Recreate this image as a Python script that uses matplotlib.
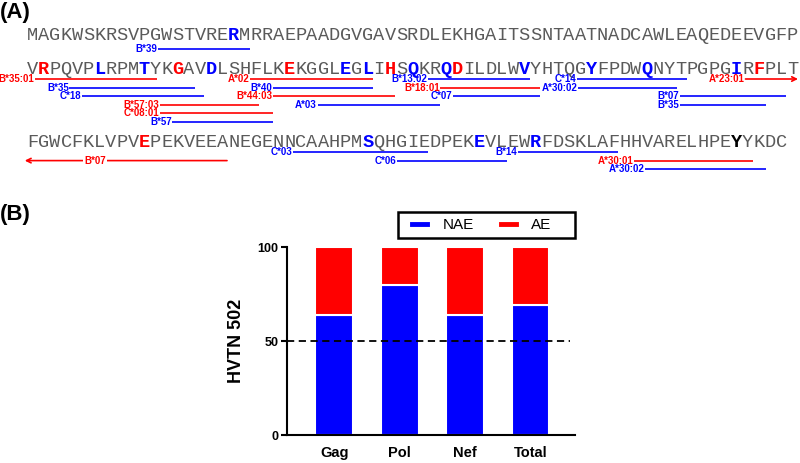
import matplotlib.pyplot as plt
from matplotlib.lines import Line2D
from matplotlib.patches import Rectangle

plt.rcParams['font.family'] = ['Liberation Sans', 'DejaVu Sans']

BLUE = '#0000ff'
RED = '#ff0000'
GREY = '#5a5a5a'

# ---- panel A: sequence (one entry per printed line) ----
seq_lines = [
    "MAGKWSKRSVPGWSTVRERMRRAEPAADGVGAVSRDLEKHGAITSSNTAATNADCAWLEAQEDEEVGFP",
    "VRPQVPLRPMTYKGAVDLSHFLKEKGGLEGLIHSQKRQDILDLWVYHTQGYFPDWQNYTPGPGIRFPLT",
    "FGWCFKLVPVEPEKVEEANEGENNCAAHPMSQHGIEDPEKEVLEWRFDSKLAFHHVARELHPEYYKDC",
]
# highlighted residues, 1-based position within each line
hl_red = [[], [2, 14, 24, 33, 39, 66], [11]]
hl_blue = [[19], [7, 11, 17, 29, 31, 35, 38, 45, 51, 56, 64], [31, 41, 46]]
hl_black = [[], [], [64]]

# epitopes: label, colour, sequence line, track under the line, start/end column
ep_label = ["B*39",
            "B*35:01", "A*02", "B*13:02", "C*14", "A*23:01",
            "B*35", "B*40", "B*18:01", "A*30:02",
            "C*18", "B*44:03", "C*07", "B*07",
            "B*57:03", "A*03", "B*35",
            "C*08:01", "B*57",
            "B*07", "C*03", "B*14", "C*06", "A*30:01", "A*30:02"]
ep_color = ["b",
            "r", "r", "b", "b", "r",
            "b", "b", "r", "b",
            "b", "r", "b", "b",
            "r", "b", "b",
            "r", "b",
            "r", "b", "b", "b", "r", "b"]
ep_line = [0] + [1] * 18 + [2] * 6
ep_track = [0.5,
            0, 0, 0, 0, 0,
            1, 1, 1, 1,
            2, 2, 2, 2,
            3, 3, 3,
            4, 5,
            1, 0, 0, 1, 1, 2]
ep_start = [11.7,
            0.7, 20.0, 35.9, 49.2, 64.3,
            3.8, 22.0, 37.0, 49.3,
            4.9, 22.0, 38.1, 58.4,
            11.9, 26.0, 58.4,
            11.9, 13.0,
            -0.2, 23.8, 43.9, 33.1, 54.3, 55.3]
ep_end = [20.0,
          11.6, 31.0, 45.0, 59.1, 69.0,
          15.0, 31.0, 45.9, 58.2,
          15.8, 32.9, 45.9, 67.9,
          20.8, 37.0, 66.1,
          22.0, 22.0,
          17.9, 35.9, 52.9, 43.0, 65.0, 66.1]
ep_arrow = [""] * 5 + ["->"] + [""] * 13 + ["<-"] + [""] * 5
ep_label_at = [None] * 19 + [6.1] + [None] * 5

# ---- panel B: stacked bars ----
categories = ["Gag", "Pol", "Nef", "Total"]
nae = [64, 80, 64, 69]
ae = [36, 20, 36, 31]

fig = plt.figure(figsize=(8, 4.63), dpi=100)

fig.text(0.0, 1 - 2 / 463, "(A)", fontsize=16, fontweight="bold", va="top")
fig.text(0.0, 1 - 204 / 463, "(B)", fontsize=16, fontweight="bold", va="top")

axA = fig.add_axes([27 / 800, 1 - 180 / 463, 771 / 800, 180 / 463])
axA.set_xlim(0, 69)
axA.set_ylim(180, 0)
axA.axis("off")

baselines = [40, 74, 147]
cmap = {"b": BLUE, "r": RED}

for li, seq in enumerate(seq_lines):
    for i, ch in enumerate(seq):
        pos = i + 1
        color, weight = GREY, "normal"
        if pos in hl_red[li]:
            color, weight = RED, "bold"
        elif pos in hl_blue[li]:
            color, weight = BLUE, "bold"
        elif pos in hl_black[li]:
            color, weight = "black", "bold"
        axA.text(i + 0.5, baselines[li], ch, ha="center", va="baseline",
                 family="Liberation Mono", fontsize=13.4, color=color,
                 fontweight=weight)

for k in range(len(ep_label)):
    c = cmap[ep_color[k]]
    y = baselines[ep_line[k]] + 5 + 8.6 * ep_track[k]
    if ep_arrow[k] == "->":
        axA.annotate("", xy=(ep_end[k], y), xytext=(ep_start[k], y),
                     annotation_clip=False,
                     arrowprops=dict(arrowstyle="->", color=c, lw=1.2,
                                     shrinkA=0, shrinkB=0, mutation_scale=8))
    elif ep_arrow[k] == "<-":
        axA.annotate("", xy=(ep_start[k], y), xytext=(ep_end[k], y),
                     annotation_clip=False,
                     arrowprops=dict(arrowstyle="->", color=c, lw=1.2,
                                     shrinkA=0, shrinkB=0, mutation_scale=8))
    else:
        axA.plot([ep_start[k], ep_end[k]], [y, y], color=c, lw=1.2,
                 solid_capstyle="butt", clip_on=False)
    if ep_label_at[k] is None:
        axA.text(ep_start[k] - 0.06, y, ep_label[k], ha="right", va="center",
                 fontsize=7, fontweight="bold", color=c)
    else:
        axA.text(ep_label_at[k], y, ep_label[k], ha="center", va="center",
                 fontsize=7, fontweight="bold", color=c,
                 bbox=dict(facecolor="white", edgecolor="none", pad=1))

# panel B
axB = fig.add_axes([287 / 800, 28 / 463, 288 / 800, 188 / 463])
x = range(len(categories))
axB.bar(x, nae, width=0.58, color=BLUE, edgecolor="white", linewidth=1.5)
axB.bar(x, ae, bottom=nae, width=0.58, color=RED, edgecolor="white", linewidth=1.5)
axB.axhline(50, xmin=0, xmax=(570 - 287) / 288, color="black", lw=1.3,
            ls=(0, (4, 2.5)))
axB.set_xlim(-0.72, 3.68)
axB.set_ylim(0, 100)
axB.set_yticks([0, 50, 100])
axB.set_xticks(list(x))
axB.set_xticklabels(categories, fontsize=10.5, fontweight="bold")
for t in axB.get_yticklabels():
    t.set_fontweight("bold")
    t.set_fontsize(9)
axB.tick_params(axis="y", length=4, width=1.5, pad=2)
axB.tick_params(axis="x", length=0, pad=8)
for s in ["top", "right"]:
    axB.spines[s].set_visible(False)
for s in ["left", "bottom"]:
    axB.spines[s].set_linewidth(1.5)
axB.set_ylabel("HVTN 502", fontsize=13, fontweight="bold", labelpad=9)

# legend: frame drawn as its own box, entries placed inside it
fig.add_artist(Rectangle((398 / 800, (463 - 238) / 463), 177 / 800, 26 / 463,
                         transform=fig.transFigure, fill=False,
                         edgecolor="black", linewidth=1.8))
handles = [Line2D([], [], color=BLUE, lw=3.5), Line2D([], [], color=RED, lw=3.5)]
fig.legend(handles, ["NAE", "AE"], loc="center left",
           bbox_to_anchor=(412 / 800, (463 - 225) / 463),
           ncol=2, frameon=False, borderpad=0, borderaxespad=0,
           handlelength=1.0, handletextpad=1.0, columnspacing=1.75,
           prop={"size": 11})

fig.savefig("out.png", dpi=100)
